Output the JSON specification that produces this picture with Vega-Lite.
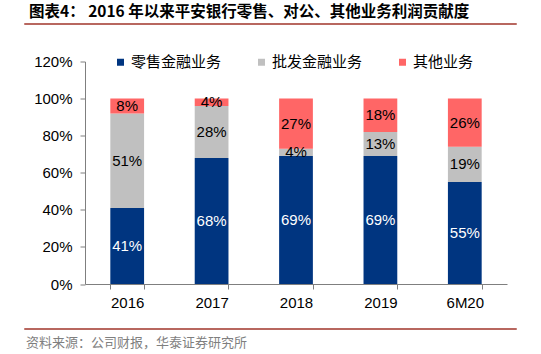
{
  "$schema": "https://vega.github.io/schema/vega-lite/v6.json",
  "padding": {"left": 24, "top": 3, "right": 5, "bottom": 5},
  "config": {"view": {"stroke": null}, "font": "Liberation Sans", "title": {"font": "Noto Sans CJK SC"}},
  "datasets": {
    "shares": [
      {"period": "2016", "series": "零售金融业务", "share": 0.41},
      {"period": "2016", "series": "批发金融业务", "share": 0.51},
      {"period": "2016", "series": "其他业务", "share": 0.08},
      {"period": "2017", "series": "零售金融业务", "share": 0.68},
      {"period": "2017", "series": "批发金融业务", "share": 0.28},
      {"period": "2017", "series": "其他业务", "share": 0.04},
      {"period": "2018", "series": "零售金融业务", "share": 0.69},
      {"period": "2018", "series": "批发金融业务", "share": 0.04},
      {"period": "2018", "series": "其他业务", "share": 0.27},
      {"period": "2019", "series": "零售金融业务", "share": 0.69},
      {"period": "2019", "series": "批发金融业务", "share": 0.13},
      {"period": "2019", "series": "其他业务", "share": 0.18},
      {"period": "6M20", "series": "零售金融业务", "share": 0.55},
      {"period": "6M20", "series": "批发金融业务", "share": 0.19},
      {"period": "6M20", "series": "其他业务", "share": 0.26}
    ]
  },
  "spacing": 29.5,
  "resolve": {"scale": {"color": "independent"}, "legend": {"color": "independent"}},
  "vconcat": [
    {
      "width": 491,
      "height": 0.01,
      "data": {"values": []},
      "mark": "text",
      "encoding": {},
      "view": {"stroke": "#a0342a", "strokeWidth": 1.5},
      "title": {"text": "图表4：  2016 年以来平安银行零售、对公、其他业务利润贡献度", "anchor": "start", "fontSize": 15.5, "fontWeight": "bold", "font": "Noto Sans CJK SC", "color": "#000000", "offset": 4, "dx": 4}
    },
    {
      "spacing": 17.5,
      "resolve": {"scale": {"color": "independent"}, "legend": {"color": "independent"}},
      "vconcat": [
        {
          "spacing": 7,
          "resolve": {"scale": {"color": "independent"}, "legend": {"color": "independent"}},
          "hconcat": [
            {"width": 0.01, "height": 0.01, "data": {"values": []}, "mark": "text", "encoding": {}},
            {
              "width": 422,
              "height": 222.5,
              "data": {"name": "shares"},
              "transform": [
                {"stack": "share", "groupby": ["period"], "sort": [{"field": "series", "order": "descending"}], "as": ["v0", "v1"]},
                {"calculate": "(datum.v0 + datum.v1) / 2", "as": "mid"}
              ],
              "encoding": {
                "x": {
                  "field": "period", "type": "nominal", "sort": null,
                  "scale": {"paddingInner": 0.6, "paddingOuter": 0.3},
                  "axis": {"title": null, "labelAngle": 0, "tickBand": "extent", "tickSize": 5, "labelPadding": 6, "labelFontSize": 15, "labelColor": "#000000", "domainColor": "#7f7f7f", "tickColor": "#7f7f7f", "labelFont": "Liberation Sans"}
                },
                "y": {
                  "field": "v0", "type": "quantitative",
                  "scale": {"domain": [0, 1.2], "nice": false},
                  "axis": {"title": null, "values": [0, 0.2, 0.4, 0.6, 0.8, 1, 1.2], "format": ".0%", "labelOverlap": false, "grid": false, "tickSize": 5, "labelPadding": 8, "labelFontSize": 15, "labelColor": "#000000", "domainColor": "#7f7f7f", "tickColor": "#7f7f7f", "labelFont": "Liberation Sans"}
                }
              },
              "layer": [
                {
                  "mark": {"type": "bar"},
                  "encoding": {
                    "y2": {"field": "v1"},
                    "color": {
                      "field": "series", "type": "nominal",
                      "scale": {"domain": ["零售金融业务", "批发金融业务", "其他业务"], "range": ["#003580", "#c0c0c0", "#ff6666"]},
                      "legend": {"title": null, "orient": "none", "legendX": 28, "legendY": -7, "direction": "horizontal", "gridAlign": "all", "symbolType": "square", "symbolSize": 49, "symbolStrokeWidth": 0, "labelFont": "Noto Sans CJK SC", "labelFontSize": 15, "labelOffset": 3, "columnPadding": 32, "labelColor": "#000000"}
                    }
                  }
                },
                {
                  "mark": {"type": "text", "fontSize": 15, "font": "Liberation Sans"},
                  "encoding": {
                    "y": {
                      "field": "mid", "type": "quantitative",
                      "axis": {"title": null, "values": [0, 0.2, 0.4, 0.6, 0.8, 1, 1.2], "format": ".0%", "labelOverlap": false, "grid": false, "tickSize": 5, "labelPadding": 8, "labelFontSize": 15, "labelColor": "#000000", "domainColor": "#7f7f7f", "tickColor": "#7f7f7f", "labelFont": "Liberation Sans"}
                    },
                    "text": {"field": "share", "type": "quantitative", "format": ".0%"},
                    "color": {"condition": {"test": "datum.series === '零售金融业务'", "value": "#ffffff"}, "value": "#000000"}
                  }
                }
              ]
            }
          ]
        },
        {
          "width": 491,
          "height": 0.01,
          "data": {"values": []},
          "mark": "text",
          "encoding": {},
          "view": {"stroke": "#a0342a", "strokeWidth": 1.5},
          "title": {"text": "资料来源：公司财报，华泰证券研究所", "orient": "bottom", "anchor": "start", "fontSize": 13, "fontWeight": "normal", "font": "Noto Sans CJK SC", "color": "#7f7f7f", "offset": 8, "dx": 1}
        }
      ]
    }
  ]
}
